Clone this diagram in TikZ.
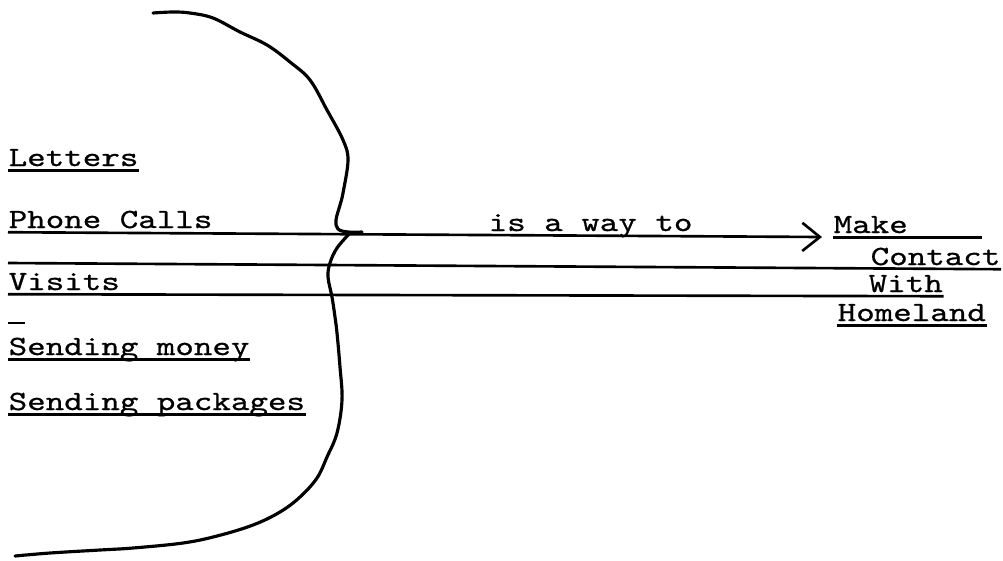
\documentclass[tikz,border=0pt]{standalone}
\usepackage{fontspec}
\newfontfamily\typewriter[FakeStretch=1.27,FakeBold=0.8]{lmmono10-regular.otf}
\usetikzlibrary{arrows.meta}

\begin{document}
\begin{tikzpicture}[x=0.01cm,y=-0.01cm,font=\typewriter\fontsize{7.9pt}{9pt}\selectfont,>={Straight Barb[length=5pt,width=8pt]}]
\tikzset{word/.style={anchor=base west,inner sep=0pt}, rule/.style={line width=0.75pt}, pen/.style={line width=0.9pt,line cap=round,line join=round}}
\useasboundingbox (0,0) rectangle (1003,560);
\foreach \n/\y/\t in {letters/166/Letters,calls/228/{Phone Calls},visits/290/Visits,money/355/{Sending money},packages/410/{Sending packages}}{\node[word] (\n) at (8,\y) {\t};}
\foreach \n/\x/\y/\t in {make/833/233/Make,contact/870/265/Contact,with/868/292/With,homeland/837/321/Homeland}{\node[word] (\n) at (\x,\y) {\t};}
\node[word] (way) at (488,231) {is a way to};
\coordinate (tip) at (822,237);
\coordinate (top) at (8,263);
\coordinate (stub) at (8,323);
% Short underlines only under their own words.
\foreach \n in {letters,money,packages,homeland}{\draw[rule] ([yshift=-1.2pt]\n.base west) -- ([yshift=-1.2pt]\n.base east);}
\draw[rule] (stub) -- ++(17,0);
\draw[rule] ([yshift=-1.2pt]make.base west) -- ++(149,0);
% Long rules run across the brace to the right column.
\draw[rule,->] ([yshift=-1.2pt]calls.base west) -- (tip);
\draw[rule] (top) -- ([yshift=-1.2pt]contact.base east);
\draw[rule] ([yshift=-1.2pt]visits.base west) -- ([yshift=-1.2pt]with.base east);
\draw[pen] plot[smooth,tension=0.6] coordinates {(153,13) (173,12) (190,13) (213,18) (240,32) (267,45) (290,62) (310,80) (327,110) (343,140) (348,160) (343,193) (340,205) (336,220) (338,229) (348,232) (362,232)};
\draw[pen] plot[smooth,tension=0.6] coordinates {(350,233) (337,248) (330,263) (328,277) (332,297) (335,317) (337,333) (340,367) (342,400) (337,433) (327,457) (317,478) (300,497) (280,512) (253,525) (217,536) (183,543) (133,548) (100,550) (50,553) (15,556)};
\end{tikzpicture}
\end{document}
